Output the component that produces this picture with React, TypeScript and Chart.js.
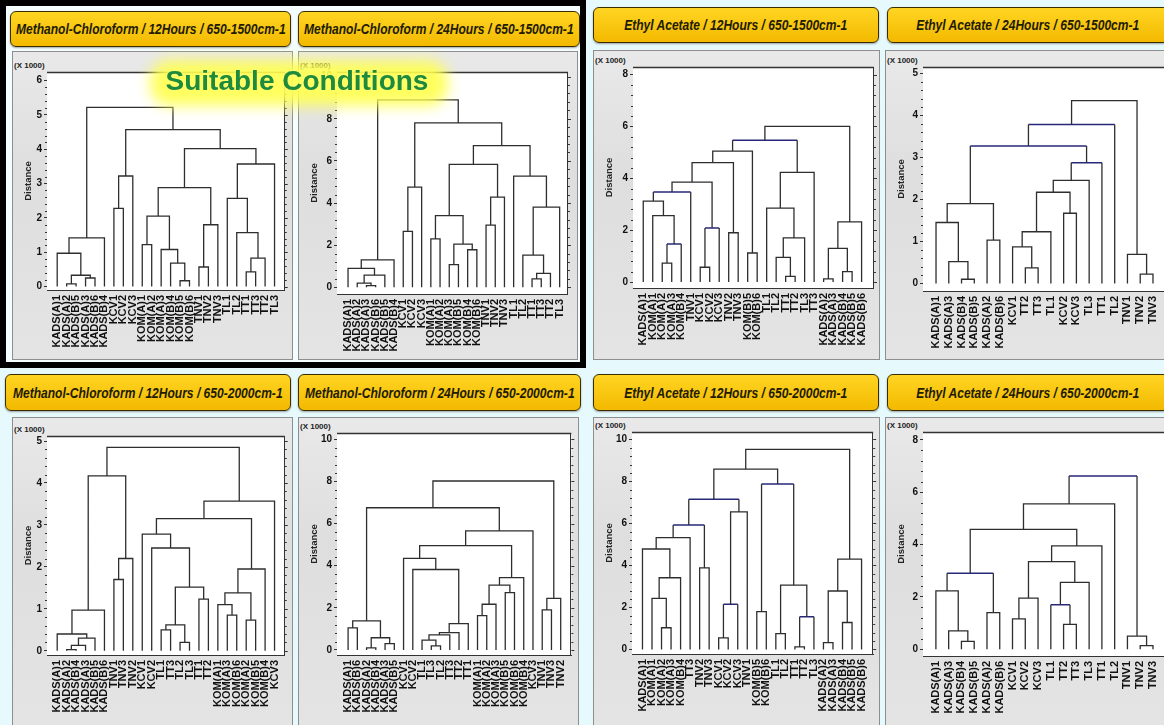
import React, { useEffect, useRef } from "react";
import { Chart, registerables } from "chart.js";

Chart.register(...registerables);

const FONT = "'Liberation Sans', Arial, Helvetica, sans-serif";

// ---------------- DATA (distances shown in thousands) ----------------
// links: [childA, childB, distance]; child < n is a leaf, child >= n is link (child - n)

// Methanol-Chloroform / 12Hours / 650-1500cm-1
const mc12r15Leaves = ["KADS(A)1","KADS(A)2","KADS(B)5","KADS(A)3","KADS(B)6","KADS(B)4","KCV1","KCV2","KCV3","KOM(A)1","KOM(A)2","KOM(A)3","KOM(B)4","KOM(B)5","KOM(B)6","TNV1","TNV2","TNV3","TL1","TL2","TT1","TT3","TT2","TL3"];
const mc12r15Links = [[1,2,0.08],[3,4,0.25],[24,25,0.33],[0,26,0.97],[27,5,1.42],[6,7,2.28],[29,8,3.22],[9,10,1.22],[13,14,0.17],[12,32,0.68],[11,33,1.08],[31,34,2.05],[15,16,0.57],[36,17,1.8],[35,37,2.88],[20,21,0.43],[39,22,0.83],[19,40,1.57],[18,41,2.57],[42,23,3.57],[38,43,4.02],[30,44,4.57],[28,45,5.22]];

// Methanol-Chloroform / 24Hours / 650-1500cm-1
const mc24r15Leaves = ["KADS(A)1","KADS(A)2","KADS(A)3","KADS(B)6","KADS(B)5","KADS(B)4","KCV1","KCV2","KCV3","KOM(A)1","KOM(A)2","KOM(A)3","KOM(B)5","KOM(B)4","KOM(B)6","TNV1","TNV2","TNV3","TL1","TL2","TT1","TT3","TT2","TL3"];
const mc24r15Links = [[2,3,0.08],[1,24,0.2],[25,4,0.58],[0,26,0.9],[27,5,1.3],[6,7,2.65],[29,8,4.75],[9,10,2.3],[11,12,1.07],[13,14,1.78],[32,33,2.05],[31,34,3.4],[15,16,2.95],[36,17,4.28],[35,37,5.83],[20,21,0.4],[39,22,0.66],[19,40,1.53],[41,23,3.8],[18,42,5.28],[38,43,6.72],[30,44,7.8],[28,45,8.9]];

// Ethyl Acetate / 12Hours / 650-1500cm-1
const ea12r15Leaves = ["KADS(A)1","KOM(A)1","KOM(A)2","KOM(A)3","KOM(B)4","TNV1","KCV1","KCV2","KCV3","TNV2","TNV3","KOM(B)5","KOM(B)6","TL1","TL2","TT1","TT2","TL3","TT3","KADS(A)2","KADS(A)3","KADS(B)4","KADS(B)5","KADS(B)6"];
const ea12r15Links = [[2,3,0.73],[24,4,1.47],[1,25,2.56],[0,26,3.12],[27,5,3.47],[6,7,0.57],[29,8,2.08],[28,30,3.85],[9,10,1.9],[31,32,4.6],[11,12,1.12],[33,34,5.05],[15,16,0.22],[14,36,0.95],[37,17,1.7],[13,38,2.85],[39,18,4.23],[35,40,5.47],[19,20,0.12],[21,22,0.4],[42,43,1.3],[44,23,2.32],[41,45,6.0]];

// Ethyl Acetate / 24Hours / 650-1500cm-1
const ea24r15Leaves = ["KADS(A)1","KADS(A)3","KADS(B)4","KADS(B)5","KADS(A)2","KADS(B)6","KCV1","TT2","TT3","TL1","KCV2","KCV3","TL3","TT1","TL2","TNV1","TNV2","TNV3"];
const ea24r15Links = [[2,3,0.1],[1,18,0.52],[0,19,1.45],[4,5,1.03],[20,21,1.9],[7,8,0.37],[6,23,0.87],[24,9,1.23],[10,11,1.67],[25,26,2.17],[27,12,2.45],[28,13,2.87],[22,29,3.27],[30,14,3.78],[16,17,0.22],[15,32,0.69],[31,33,4.35]];

// Methanol-Chloroform / 12Hours / 650-2000cm-1
const mc12r20Leaves = ["KADS(A)1","KADS(A)2","KADS(B)4","KADS(A)3","KADS(B)5","KADS(B)6","TNV1","TNV3","TNV2","KCV1","KCV2","TL1","TT3","TL2","TL3","TT1","TT2","KOM(A)1","KOM(A)3","KOM(B)6","KOM(A)2","KOM(B)5","KOM(B)4","KCV3"];
const mc12r20Links = [[1,2,0.03],[24,3,0.13],[25,4,0.3],[0,26,0.4],[27,5,0.97],[6,7,1.7],[29,8,2.2],[28,30,4.17],[11,12,0.5],[13,14,0.2],[32,33,0.62],[15,16,1.23],[34,35,1.52],[10,36,2.45],[9,37,2.78],[18,19,0.85],[17,39,1.1],[20,21,0.73],[40,41,1.38],[42,22,1.95],[38,43,3.15],[44,23,3.57],[31,45,4.85]];

// Methanol-Chloroform / 24Hours / 650-2000cm-1
const mc24r20Leaves = ["KADS(A)1","KADS(B)6","KADS(A)2","KADS(B)4","KADS(A)3","KADS(B)5","KCV1","KCV2","TL1","TL3","TL2","TT3","TT2","TT1","KOM(A)1","KOM(A)2","KOM(A)3","KOM(B)5","KOM(B)6","KOM(B)4","KCV3","TNV1","TNV3","TNV2"];
const mc24r20Links = [[0,1,1.05],[2,3,0.1],[4,5,0.3],[25,26,0.58],[24,27,1.38],[9,10,0.19],[8,29,0.47],[30,11,0.72],[31,12,0.82],[32,13,1.25],[7,33,3.82],[6,34,4.35],[14,15,1.63],[36,16,2.17],[17,18,2.72],[37,38,3.08],[39,19,3.43],[35,40,4.95],[41,20,5.65],[28,42,6.75],[21,22,1.9],[44,23,2.45],[43,45,8.02]];

// Ethyl Acetate / 12Hours / 650-2000cm-1
const ea12r20Leaves = ["KADS(A)1","KOM(A)1","KOM(A)2","KOM(A)3","KOM(B)4","TT3","TNV2","TNV3","KCV1","KCV2","KCV3","TNV1","KOM(B)5","KOM(B)6","TL1","TL2","TT1","TT2","TL3","KADS(A)2","KADS(A)3","KADS(B)4","KADS(B)5","KADS(B)6"];
const ea12r20Links = [[2,3,1.03],[1,24,2.43],[25,4,3.41],[0,26,4.78],[27,5,5.32],[6,7,3.88],[28,29,5.92],[8,9,0.55],[31,10,2.15],[32,11,6.55],[30,33,7.15],[12,13,1.8],[14,15,0.75],[16,17,0.12],[37,18,1.55],[36,38,3.06],[35,39,7.87],[34,40,8.58],[19,20,0.32],[21,22,1.28],[42,43,2.78],[44,23,4.3],[41,45,9.52]];

// Ethyl Acetate / 24Hours / 650-2000cm-1
const ea24r20Leaves = ["KADS(A)1","KADS(A)3","KADS(B)4","KADS(B)5","KADS(A)2","KADS(B)6","KCV1","KCV2","KCV3","TL1","TT2","TT3","TL3","TT1","TL2","TNV1","TNV2","TNV3"];
const ea24r20Links = [[2,3,0.3],[1,18,0.7],[0,19,2.23],[4,5,1.4],[20,21,2.9],[6,7,1.16],[23,8,1.95],[10,11,0.95],[9,25,1.7],[26,12,2.55],[24,27,3.35],[28,13,3.95],[22,29,4.58],[30,14,5.55],[16,17,0.14],[15,32,0.5],[31,33,6.62]];

// y-axis tick labels
const ticks0to5 = [0, 1, 2, 3, 4, 5];
const ticks0to6 = [0, 1, 2, 3, 4, 5, 6];
const ticks0to8 = [0, 2, 4, 6, 8];
const ticks0to10 = [0, 2, 4, 6, 8, 10];

// ---------------- PANEL LAYOUT / STYLE ----------------
const panels = [
  { title: "Methanol-Chloroform / 12Hours / 650-1500cm-1", leaves: mc12r15Leaves, links: mc12r15Links, blue: [],
    yTicks: ticks0to6, yMin: -0.1, yMax: 6.25, xMin: -1.08, xMax: 24.08,
    titleBox: [10, 11, 281, 36], box: [12, 51, 281, 309], plot: [47, 72, 287, 290] },
  { title: "Methanol-Chloroform / 24Hours / 650-1500cm-1", leaves: mc24r15Leaves, links: mc24r15Links, blue: [],
    yTicks: ticks0to10, yMin: -0.32, yMax: 10.22, xMin: -1.2, xMax: 23.9,
    titleBox: [298, 11, 282, 36], box: [298, 51, 280, 309], plot: [337, 72, 574, 294] },
  { title: "Ethyl Acetate / 12Hours / 650-1500cm-1", leaves: ea12r15Leaves, links: ea12r15Links, blue: [1, 4, 6, 17],
    yTicks: ticks0to8, yMin: -0.23, yMax: 8.29, xMin: -1.08, xMax: 24.3,
    titleBox: [593, 7, 286, 36], box: [593, 50, 287, 310], plot: [633, 67, 876, 288] },
  { title: "Ethyl Acetate / 24Hours / 650-1500cm-1", leaves: ea24r15Leaves, links: ea24r15Links, blue: [11, 12, 13],
    yTicks: ticks0to5, yMin: -0.18, yMax: 5.15, xMin: -1.02, xMax: 18.02,
    titleBox: [887, 7, 282, 36], box: [885, 50, 292, 310], plot: [923, 67, 1166, 291] },
  { title: "Methanol-Chloroform / 12Hours / 650-2000cm-1", leaves: mc12r20Leaves, links: mc12r20Links, blue: [],
    yTicks: ticks0to5, yMin: -0.1, yMax: 5.12, xMin: -1.08, xMax: 24.08,
    titleBox: [5, 374, 286, 37], box: [12, 417, 281, 312], plot: [47, 436, 287, 655] },
  { title: "Methanol-Chloroform / 24Hours / 650-2000cm-1", leaves: mc24r20Leaves, links: mc24r20Links, blue: [],
    yTicks: ticks0to10, yMin: -0.24, yMax: 10.3, xMin: -1.2, xMax: 24.15,
    titleBox: [298, 374, 283, 37], box: [298, 417, 281, 312], plot: [337, 433, 577, 655] },
  { title: "Ethyl Acetate / 12Hours / 650-2000cm-1", leaves: ea12r20Leaves, links: ea12r20Links, blue: [6, 8, 10, 14, 16],
    yTicks: ticks0to10, yMin: -0.22, yMax: 10.35, xMin: -1.1, xMax: 24.22,
    titleBox: [593, 374, 286, 37], box: [593, 417, 287, 312], plot: [632, 432, 875, 654] },
  { title: "Ethyl Acetate / 24Hours / 650-2000cm-1", leaves: ea24r20Leaves, links: ea24r20Links, blue: [4, 8, 16],
    yTicks: ticks0to8, yMin: -0.26, yMax: 8.3, xMin: -1.01, xMax: 18.02,
    titleBox: [887, 374, 282, 37], box: [885, 417, 292, 312], plot: [923, 432, 1166, 656] },
];

const LINE = "#2e2e2e";
const BLUE = "#28287a";
const AXIS = "#333333";
const BG = "#e6f9fc";

function buildSegments(n: number, links: number[][], blueIdx: number[]) {
  const xs: number[] = [];
  const hs: number[] = [];
  for (let i = 0; i < n; i++) { xs.push(i); hs.push(0); }
  const dark: any[] = [];
  const blue: any[] = [];
  links.forEach((lk, k) => {
    const [a, b, h] = lk;
    const xa = xs[a], xb = xs[b];
    if (blueIdx.includes(k)) {
      dark.push({ x: xa, y: hs[a] }, { x: xa, y: h }, { x: xa, y: null });
      dark.push({ x: xb, y: h }, { x: xb, y: hs[b] }, { x: xb, y: null });
      blue.push({ x: xa, y: h }, { x: xb, y: h }, { x: xb, y: null });
    } else {
      dark.push({ x: xa, y: hs[a] }, { x: xa, y: h }, { x: xb, y: h }, { x: xb, y: hs[b] }, { x: xb, y: null });
    }
    xs.push((xa + xb) / 2);
    hs.push(h);
  });
  return { dark, blue };
}

function Dendro({ cfg }: { cfg: any }) {
  const ref = useRef<HTMLCanvasElement>(null);
  const [bl, bt, bw, bh] = cfg.box;
  const [pl, pt, pr, pb] = cfg.plot;
  useEffect(() => {
    const canvas = ref.current;
    if (!canvas) return;
    const segs = buildSegments(cfg.leaves.length, cfg.links, cfg.blue);
    const step = cfg.yTicks[1] - cfg.yTicks[0];
    const top = cfg.yTicks[cfg.yTicks.length - 1];
    const framePlugin = {
      id: "frameBox",
      beforeDatasetsDraw(chart: any) {
        const { ctx, chartArea: a } = chart;
        ctx.save();
        ctx.fillStyle = "#ffffff";
        ctx.fillRect(a.left, a.top, a.right - a.left, a.bottom - a.top);
        ctx.restore();
      },
      afterDraw(chart: any) {
        const { ctx, chartArea: a, scales } = chart;
        const y = scales.y;
        ctx.save();
        ctx.strokeStyle = AXIS;
        ctx.lineWidth = 1;
        ctx.beginPath();
        ctx.moveTo(Math.round(a.right) - 0.5, a.top);
        ctx.lineTo(Math.round(a.right) - 0.5, a.bottom);
        const minor = step / 5;
        for (let k = 0; k * minor <= top + 1e-9; k++) {
          const v = k * minor;
          const py = Math.round(y.getPixelForValue(v)) + 0.5;
          const major = k % 5 === 0;
          if (!major) {
            ctx.moveTo(a.left - 2, py);
            ctx.lineTo(a.left, py);
          }
          ctx.moveTo(a.right, py);
          ctx.lineTo(a.right + (major ? 3 : 2), py);
        }
        ctx.stroke();
        ctx.lineWidth = 1.6;
        ctx.beginPath();
        ctx.moveTo(a.left, a.top + 0.5);
        ctx.lineTo(a.right, a.top + 0.5);
        ctx.stroke();
        ctx.restore();
      },
    };
    const ds = (data: any[], color: string, w: number) => ({
      data, borderColor: color, backgroundColor: color, borderWidth: w,
      pointRadius: 0, pointHoverRadius: 0, spanGaps: false, tension: 0, fill: false,
    });
    const chart = new Chart(canvas, {
      type: "line",
      data: { datasets: [ds(segs.dark, LINE, 1.3), ds(segs.blue, BLUE, 1.5)] as any },
      options: {
        responsive: false,
        maintainAspectRatio: false,
        animation: false,
        events: [],
        layout: { padding: { top: pt - bt, right: bl + bw - pr, left: 0, bottom: 0 } },
        plugins: { legend: { display: false }, tooltip: { enabled: false }, title: { display: false } },
        scales: {
          x: {
            type: "linear",
            min: cfg.xMin,
            max: cfg.xMax,
            afterBuildTicks: (s: any) => { s.ticks = cfg.leaves.map((_: any, i: number) => ({ value: i })); },
            afterFit: (s: any) => { s.height = bt + bh - pb; },
            ticks: {
              autoSkip: false, minRotation: 90, maxRotation: 90, padding: 5, color: "#111",
              font: { family: FONT, size: 11, weight: "bold" },
              callback: (v: any) => cfg.leaves[Math.round(Number(v))] ?? "",
            },
            grid: { display: true, drawOnChartArea: false, drawTicks: false, color: AXIS },
            border: { display: true, color: AXIS, width: 1 },
          },
          y: {
            type: "linear",
            min: cfg.yMin,
            max: cfg.yMax,
            afterBuildTicks: (s: any) => { s.ticks = cfg.yTicks.map((v: number) => ({ value: v })); },
            afterFit: (s: any) => { s.width = pl - bl; },
            ticks: { padding: 2, color: "#111", font: { family: FONT, size: 10, weight: "bold" }, callback: (v: any) => String(v) },
            grid: { display: true, drawOnChartArea: false, drawTicks: true, tickLength: 3, color: AXIS },
            border: { display: true, color: AXIS, width: 1 },
            title: {
              display: true, text: "Distance", color: "#222",
              font: { family: FONT, size: 9.5, weight: "bold" },
              padding: { top: 11, bottom: 0 },
            },
          },
        },
      } as any,
      plugins: [framePlugin as any],
    });
    return () => chart.destroy();
  }, [cfg]);
  return (
    <canvas ref={ref} width={bw} height={bh}
      style={{ position: "absolute", left: bl, top: bt, width: bw, height: bh }} />
  );
}

function Panel({ cfg }: { cfg: any }) {
  const [tl, tt, tw, th] = cfg.titleBox;
  const [bl, bt, bw, bh] = cfg.box;
  const [, pt] = cfg.plot;
  return (
    <>
      <div style={{
        position: "absolute", left: tl, top: tt, width: tw, height: th, boxSizing: "border-box",
        background: "linear-gradient(#ffd523, #f3b900)", border: "1.5px solid #3a2e00", borderRadius: 6,
        boxShadow: "0 1px 2px rgba(0,0,0,0.35)", display: "flex", alignItems: "center", justifyContent: "center",
        overflow: "hidden",
      }}>
        <span style={{
          display: "inline-block", whiteSpace: "nowrap", fontFamily: FONT, fontWeight: "bold", fontStyle: "italic",
          fontSize: 14, color: "#221b00", transform: "scaleX(0.86)",
        }}>{cfg.title}</span>
      </div>
      <div style={{
        position: "absolute", left: bl, top: bt, width: bw, height: bh, boxSizing: "border-box",
        background: "linear-gradient(#e9e9e9, #dedede 40%, #e4e4e4)", border: "1px solid #8e8e8e",
      }} />
      <div style={{
        position: "absolute", left: bl + 2, top: pt - 11, fontFamily: FONT, fontSize: 8, fontWeight: "bold",
        lineHeight: "9px", color: "#222", whiteSpace: "nowrap",
      }}>(X 1000)</div>
      <Dendro cfg={cfg} />
    </>
  );
}

export default function App() {
  return (
    <div style={{
      position: "absolute", left: 0, top: 0, width: 1164, height: 725, overflow: "hidden",
      background: BG, fontFamily: FONT,
    }}>
      <div style={{ position: "absolute", left: 0, top: 0, width: 586, height: 368, background: "#f4fdff" }} />
      {panels.map((p, i) => <Panel key={i} cfg={p} />)}
      <div style={{
        position: "absolute", left: 0, top: 0, width: 586, height: 368, boxSizing: "border-box",
        border: "6px solid #000", pointerEvents: "none",
      }} />
      <div style={{
        position: "absolute", left: 150, top: 60, width: 298, height: 46, background: "#ffff50",
        filter: "blur(7px)", opacity: 0.92, borderRadius: 20,
      }} />
      <div style={{
        position: "absolute", left: 97, top: 64, width: 400, textAlign: "center", fontFamily: FONT,
        fontWeight: "bold", fontSize: 28, lineHeight: "34px", color: "#1e8a3c", whiteSpace: "nowrap",
        textShadow: "0 0 3px #ffff80",
      }}>Suitable Conditions</div>
    </div>
  );
}
